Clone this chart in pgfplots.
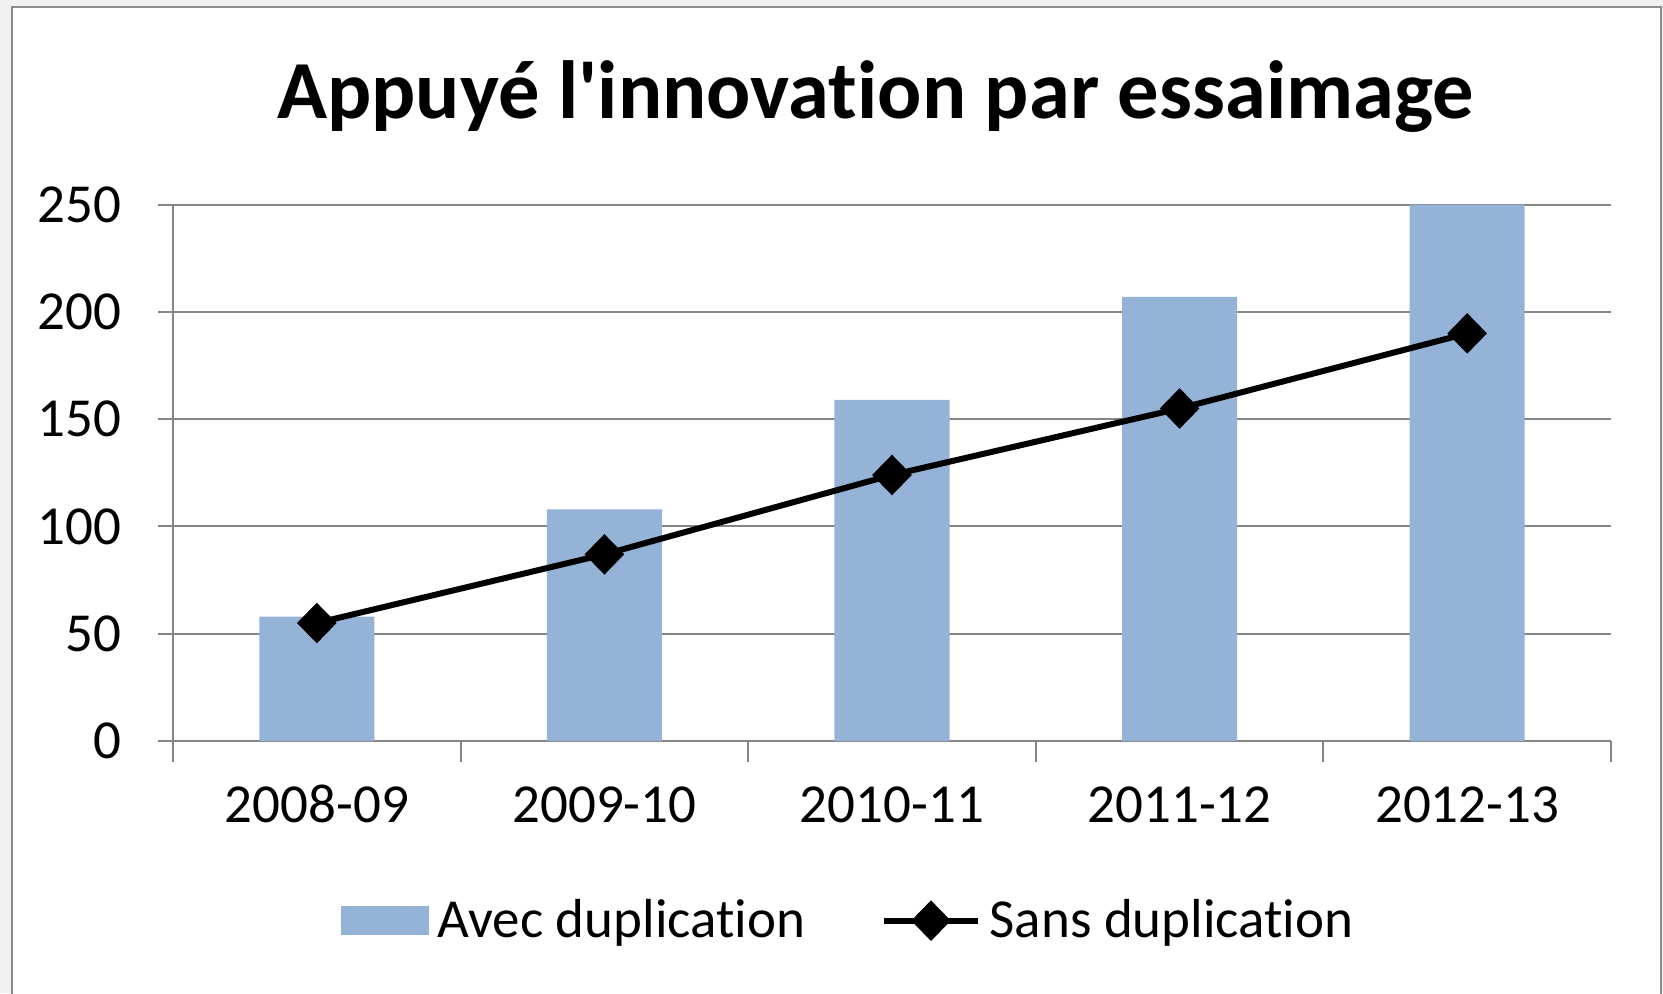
\documentclass[border=0pt]{standalone}
\usepackage{fontspec}
\setmainfont{Carlito}[Ligatures={CommonOff}]
\usepackage{pgfplots}
\pgfplotsset{compat=1.18}
\definecolor{barblue}{HTML}{95B3D7}
\definecolor{gridgray}{HTML}{868686}
\definecolor{framegray}{HTML}{8C8C8C}
\definecolor{bggray}{HTML}{F0F0F0}
\begin{document}
\begin{tikzpicture}
\path[use as bounding box] (0,0) rectangle (498.9pt,297.9pt);
\fill[bggray] (0,0) rectangle (498.9pt,297.9pt);
\filldraw[fill=white, draw=framegray, line width=0.8pt] (3.6pt,-3pt) rectangle (498.3pt,295.8pt);
\node[anchor=base, inner sep=0pt, font=\fontsize{24.75}{29}\selectfont\bfseries] at (262.6pt,262.3pt) {Appuyé l\textquotesingle innovation par essaimage};
\begin{axis}[
  at={(51.9pt,75.6pt)}, anchor=south west,
  scale only axis, width=431.4pt, height=160.9pt,
  xmin=-0.5, xmax=4.5, ymin=0, ymax=250,
  ytick={0,50,...,250},
  xtick={-0.5,0.5,...,4.5},
  x tick label as interval,
  xticklabels={2008-09,2009-10,2010-11,2011-12,2012-13},
  axis x line*=bottom, axis y line*=left,
  axis line style={draw=gridgray, line width=0.6pt},
  ymajorgrids, grid style={draw=gridgray, line width=0.6pt},
  tick style={draw=gridgray, line width=0.6pt},
  tick align=outside,
  major tick length=4.5pt,
  xtick style={/pgfplots/major tick length=6.3pt},
  /pgf/number format/assume math mode=true,
  ticklabel style={font=\fontsize{16.5}{19}\selectfont, inner sep=0pt},
  yticklabel style={anchor=east, xshift=-10.8pt},
  xticklabel style={anchor=base, yshift=-19.8pt},
  legend style={draw=none, fill=none, inner sep=0pt, outer sep=0pt,
    at={(0.1166,-0.335)}, anchor=west, legend columns=2,
    font=\fontsize{16.5}{19}\selectfont,
    nodes={inner sep=0pt},
    /tikz/every odd column/.append style={column sep=2.7pt},
    /tikz/every even column/.append style={column sep=22.8pt}},
]
\addplot[ybar, bar width=0.4, fill=barblue, draw=none,
  legend image code/.code={\fill[barblue] (0pt,-4.35pt) rectangle (26.4pt,4.35pt);}]
  coordinates {(0,58) (1,108) (2,159) (3,207) (4,250)};
\addlegendentry{Avec duplication}
\addplot[black, line width=1.8pt, mark=diamond*, mark size=4.8pt, mark options={xscale=1.3, solid},
  legend image code/.code={\draw[black, line width=1.8pt, mark=diamond*, mark size=4.8pt, mark options={xscale=1.3, solid}, mark repeat=2, mark phase=2] plot coordinates {(0pt,0pt) (14pt,0pt) (28pt,0pt)};}]
  coordinates {(0,55) (1,87) (2,124) (3,155) (4,190)};
\addlegendentry{Sans duplication}
\end{axis}
\end{tikzpicture}
\end{document}
